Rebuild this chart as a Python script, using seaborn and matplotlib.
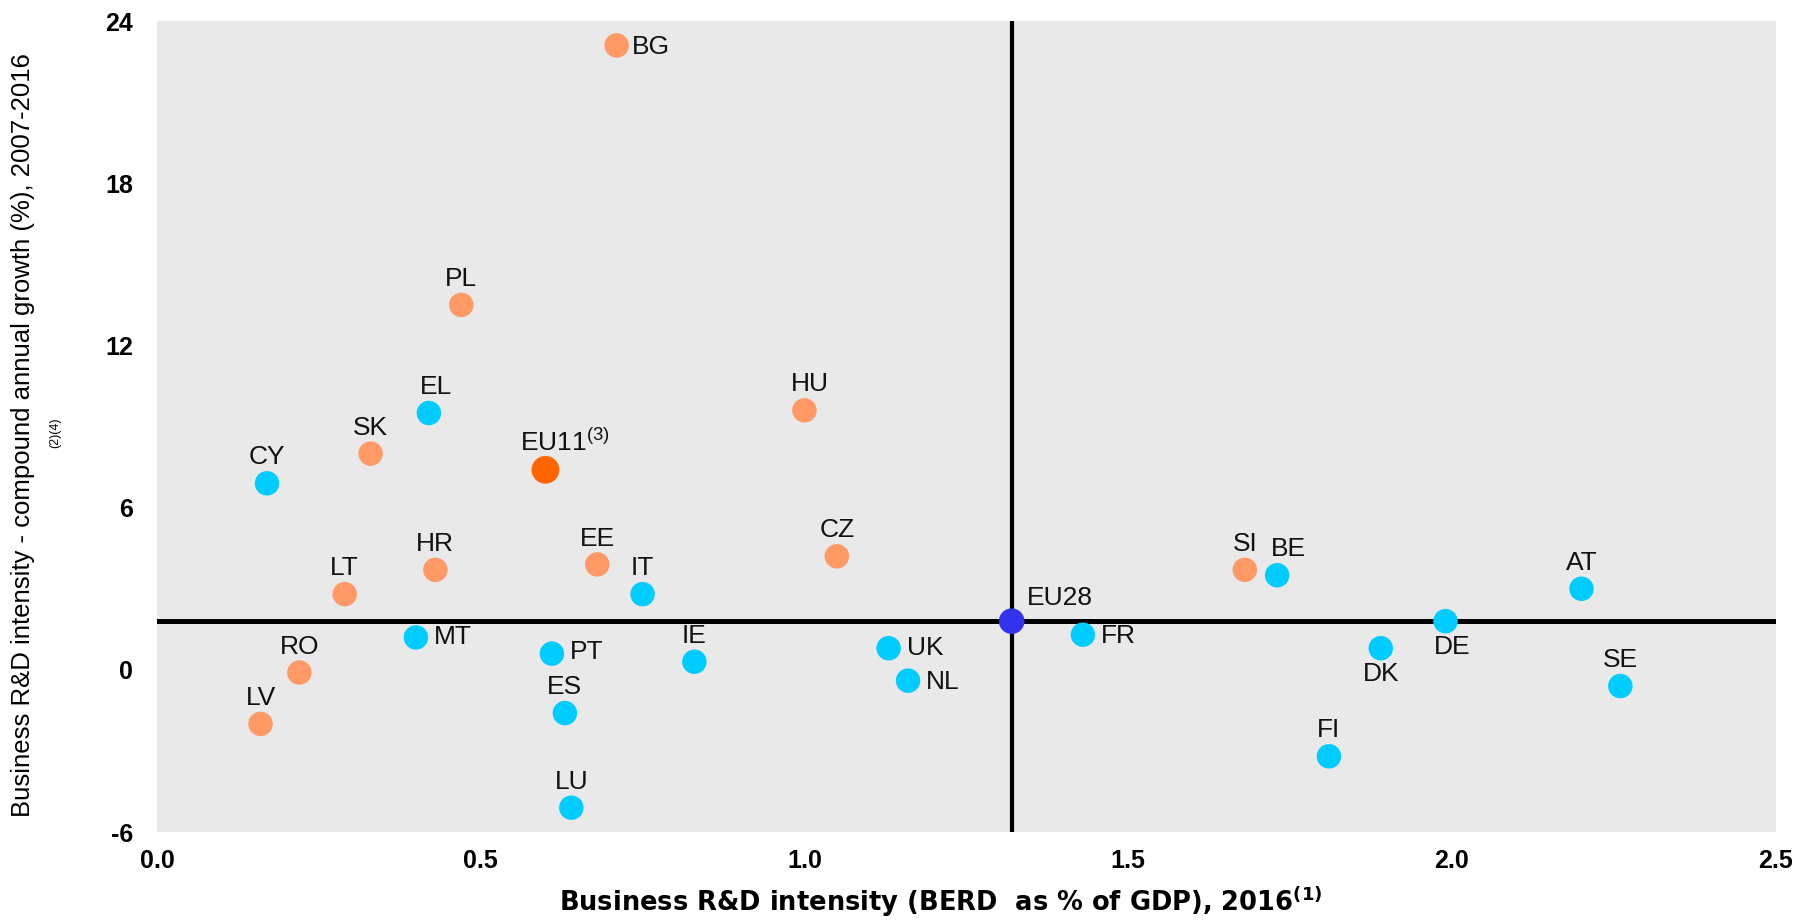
import numpy as np
import pandas as pd
import matplotlib
matplotlib.use("Agg")
import matplotlib.pyplot as plt
import seaborn as sns

# Business R&D intensity 2016 (x) and compound annual growth 2007-2016 (y)
countries = ['BG', 'PL', 'EL', 'HU', 'SK', 'EU11', 'CY', 'CZ', 'EE', 'HR',
             'SI', 'BE', 'AT', 'LT', 'IT', 'DE', 'FR', 'MT', 'UK', 'DK',
             'PT', 'IE', 'RO', 'NL', 'SE', 'ES', 'LV', 'FI', 'LU', 'EU28']
berd = [0.71, 0.47, 0.42, 1.00, 0.33, 0.60, 0.17, 1.05, 0.68, 0.43,
        1.68, 1.73, 2.20, 0.29, 0.75, 1.99, 1.43, 0.40, 1.13, 1.89,
        0.61, 0.83, 0.22, 1.16, 2.26, 0.63, 0.16, 1.81, 0.64, 1.32]
growth = [23.1, 13.5, 9.5, 9.6, 8.0, 7.4, 6.9, 4.2, 3.9, 3.7,
          3.7, 3.5, 3.0, 2.8, 2.8, 1.8, 1.3, 1.2, 0.8, 0.8,
          0.6, 0.3, -0.1, -0.4, -0.6, -1.6, -2.0, -3.2, -5.1, 1.8]
group = ['EU13', 'EU13', 'EU15', 'EU13', 'EU13', 'EU11', 'EU15', 'EU13', 'EU13', 'EU13',
         'EU13', 'EU15', 'EU15', 'EU13', 'EU15', 'EU15', 'EU15', 'EU15', 'EU15', 'EU15',
         'EU15', 'EU15', 'EU13', 'EU15', 'EU15', 'EU15', 'EU13', 'EU15', 'EU15', 'EU28']
eu28_ref = (1.32, 1.8)

x_ticks = [0.0, 0.5, 1.0, 1.5, 2.0, 2.5]
y_ticks = [-6, 0, 6, 12, 18, 24]

palette = {'EU13': '#FF9966', 'EU15': '#00CCFF', 'EU11': '#FF6600', 'EU28': '#3333EE'}
sizes = {'EU13': 310, 'EU15': 310, 'EU11': 400, 'EU28': 340}

# label placement: (dx, dy) in points, alignment
place = {
    'BG': (11, -1, 'left', 'center'), 'MT': (13, 0, 'left', 'center'),
    'PT': (13, 1, 'left', 'center'), 'UK': (13, 0, 'left', 'center'),
    'NL': (13, -1, 'left', 'center'), 'FR': (13, -1, 'left', 'center'),
    'EU28': (11, 8, 'left', 'bottom'),
    'DE': (5, -10, 'center', 'top'), 'DK': (0, -10, 'center', 'top'),
    'EU11': (14, 10, 'center', 'bottom'), 'BE': (8, 10, 'center', 'bottom'),
    'EL': (5, 10, 'center', 'bottom'), 'HU': (4, 10, 'center', 'bottom'),
}

df = pd.DataFrame({'country': countries, 'berd': berd, 'growth': growth, 'group': group})

fig = plt.figure(figsize=(18.12, 9.21), dpi=100)
ax = fig.add_axes([0.0866, 0.0966, 0.8934, 0.8805])
ax.set_facecolor('#E9E9E9')

ax.axhline(eu28_ref[1], color='black', lw=3.6, zorder=1)
ax.axvline(eu28_ref[0], color='black', lw=3.0, zorder=1)

for g in ['EU13', 'EU15', 'EU11', 'EU28']:
    sub = df[df['group'] == g]
    sns.scatterplot(data=sub, x='berd', y='growth', color=palette[g], s=sizes[g],
                    edgecolor='none', ax=ax, zorder=3, legend=False)

lab_font = ['Liberation Sans', 'DejaVu Sans']
for c, xv, yv in zip(countries, berd, growth):
    dx, dy, ha, va = place.get(c, (0, 10, 'center', 'bottom'))
    txt = 'EU11$^{\\mathregular{(3)}}$' if c == 'EU11' else c
    ax.annotate(txt, (xv, yv), xytext=(dx, dy), textcoords='offset points',
                ha=ha, va=va, fontsize=19, family=lab_font, color='#111111', zorder=4)

ax.set_xlim(0, 2.5)
ax.set_ylim(-6, 24)
ax.set_xticks(x_ticks)
ax.set_xticklabels([f'{v:.1f}' for v in x_ticks])
ax.set_yticks(y_ticks)
ax.set_yticklabels([str(v) for v in y_ticks])
for lab in ax.get_xticklabels() + ax.get_yticklabels():
    lab.set_fontweight('bold')
    lab.set_fontsize(18)
    lab.set_family(lab_font)
ax.tick_params(length=0, pad=12)
ax.tick_params(axis='y', pad=17)
for sp in ax.spines.values():
    sp.set_visible(False)
ax.grid(False)
ax.set_xlabel('')
ax.set_ylabel('')

fig.text(0.519, 0.002,
         'Business R&D intensity (BERD  as % of GDP), 2016$^{\\mathregular{(1)}}$',
         ha='center', va='bottom', fontsize=18.5, fontweight='bold',
         family=['DejaVu Sans'])
fig.text(0.006, 0.528, 'Business R&D intensity - compound annual growth (%), 2007-2016',
         rotation=90, ha='left', va='center', fontsize=18.5, family=lab_font)
fig.text(0.0306, 0.530, '(2)(4)', rotation=90, ha='center', va='center', fontsize=9,
         family=lab_font)

fig.savefig('out.png', dpi=100)
